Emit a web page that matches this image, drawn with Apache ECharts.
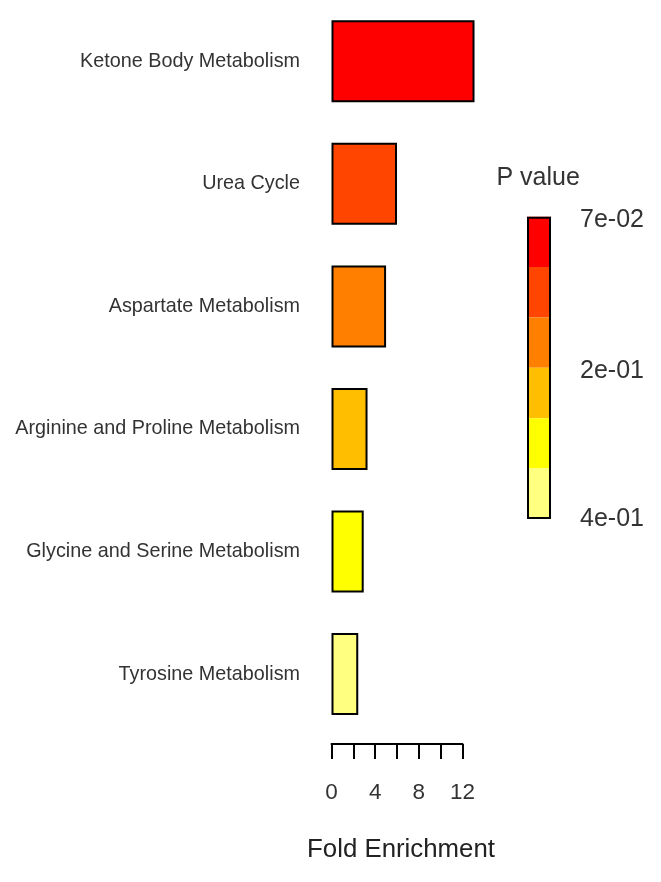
<!DOCTYPE html>
<html>
<head>
<meta charset="utf-8">
<script src="https://cdn.jsdelivr.net/npm/echarts@6/dist/echarts.min.js"></script>
<style>
html,body{margin:0;padding:0;background:#fff;}
#chart{width:661px;height:882px;}
</style>
</head>
<body>
<div id="chart"></div>
<script>
// ---- data ----
var pathways = ['Ketone Body Metabolism', 'Urea Cycle', 'Aspartate Metabolism',
  'Arginine and Proline Metabolism', 'Glycine and Serine Metabolism', 'Tyrosine Metabolism'];
var foldEnrichment = [13.1, 6.0, 5.0, 3.3, 2.95, 2.45];
var pValues = [0.07, 0.14, 0.2, 0.25, 0.31, 0.38];
var xTickValues = [0, 2, 4, 6, 8, 10, 12];
var xTickLabels = ['0', '4', '8', '12'];
var legendBreaks = [0.07, 0.125, 0.18, 0.235, 0.29, 0.345, 0.40];
var legendColors = ['#FF0000', '#FF4500', '#FF8000', '#FFBF00', '#FFFF00', '#FFFF80'];
var legendTickLabels = ['7e-02', '2e-01', '4e-01'];
var legendTickPos = [0.07, 3.06, 6];

function colorFor(p) {
  for (var i = 0; i < legendColors.length; i++) {
    if (p < legendBreaks[i + 1] || i === legendColors.length - 1) return legendColors[i];
  }
}

var FONT = "'Liberation Sans', Arial, sans-serif";
var chart = echarts.init(document.getElementById('chart'), null, {renderer: 'canvas'});

var legendSeries = legendColors.map(function (c, i) {
  return {
    type: 'bar', xAxisIndex: 1, yAxisIndex: 1, stack: 'legend',
    barWidth: '100%', silent: true,
    itemStyle: {color: c},
    data: [1]
  };
});
legendSeries.push({
  type: 'bar', xAxisIndex: 1, yAxisIndex: 1, barWidth: '100%', barGap: '-100%',
  silent: true, z: 5,
  itemStyle: {color: 'rgba(0,0,0,0)', borderColor: '#000', borderWidth: 2},
  data: [legendColors.length]
});

var option = {
  backgroundColor: '#fff',
  animation: false,
  textStyle: {fontFamily: FONT},
  grid: [
    {left: 331.5, width: 131, top: -2, bottom: 146.6, containLabel: false},
    {left: 527, width: 24, top: 216.7, height: 302.3}
  ],
  title: {
    text: 'P value', left: 496.5, top: 166, padding: 0,
    textStyle: {fontFamily: FONT, fontSize: 25, fontWeight: 'normal', color: '#333'}
  },
  xAxis: [
    {
      type: 'value', gridIndex: 0, min: 0, max: 12, interval: 2, offset: 8.5,
      axisLine: {show: true, lineStyle: {color: '#000', width: 2}},
      axisTick: {show: true, length: 15, lineStyle: {color: '#000', width: 2}},
      splitLine: {show: false},
      axisLabel: {
        margin: 37, fontSize: 22.5, color: '#333', fontFamily: FONT,
        formatter: function (v) {
          var s = String(v);
          return xTickLabels.indexOf(s) >= 0 ? s : '';
        }
      },
      name: 'Fold Enrichment', nameLocation: 'middle', nameGap: 93,
      nameTextStyle: {fontSize: 25.8, color: '#222', fontFamily: FONT, padding: [0, 0, 0, 8]}
    },
    {
      type: 'category', gridIndex: 1, data: [''], show: false, boundaryGap: true
    }
  ],
  yAxis: [
    {
      type: 'category', gridIndex: 0, data: pathways, inverse: true,
      axisLine: {show: false}, axisTick: {show: false}, splitLine: {show: false},
      axisLabel: {margin: 31.5, fontSize: 19.8, color: '#333', fontFamily: FONT}
    },
    {
      type: 'value', gridIndex: 1, min: 0, max: legendColors.length, inverse: true,
      position: 'right',
      axisLine: {show: false}, axisTick: {show: false}, splitLine: {show: false},
      axisLabel: {
        margin: 29, fontSize: 25, color: '#333', fontFamily: FONT,
        customValues: legendTickPos,
        formatter: function (v) {
          var i = legendTickPos.indexOf(v);
          return i >= 0 ? legendTickLabels[i] : '';
        }
      }
    }
  ],
  series: [
    {
      type: 'bar', xAxisIndex: 0, yAxisIndex: 0, clip: false,
      barWidth: 82,
      data: foldEnrichment.map(function (v, i) {
        return {value: v, itemStyle: {color: colorFor(pValues[i])}};
      }),
      itemStyle: {borderColor: '#000', borderWidth: 2}
    }
  ].concat(legendSeries)
};
chart.setOption(option);
</script>
</body>
</html>
